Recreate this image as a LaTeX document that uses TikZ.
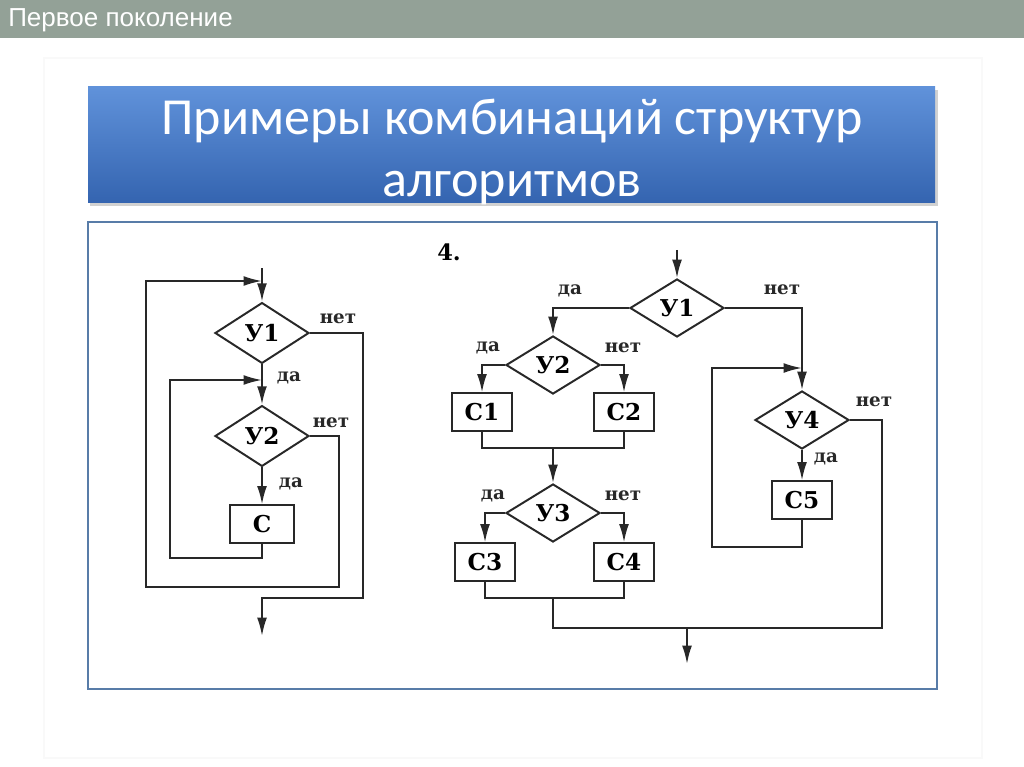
\documentclass[tikz,border=0pt]{standalone}
\usepackage{fontspec}
\usepackage{tikz}
\usetikzlibrary{arrows.meta}
\usetikzlibrary{shapes.geometric}
\setmainfont{DejaVu Serif}
\newfontfamily\headfont{Liberation Sans}
\newfontfamily\titlefont{Carlito}
\definecolor{HeadGrey}{RGB}{147,161,151}
\definecolor{TitleTop}{RGB}{96,146,218}
\definecolor{TitleBottom}{RGB}{52,100,176}
\definecolor{FrameBlue}{RGB}{88,124,168}
\definecolor{InkGrey}{RGB}{40,40,40}

\tikzset{
  cond/.style={diamond, draw=InkGrey, line width=1.4pt, inner sep=0pt,
    minimum width=2.35cm, minimum height=1.45cm, font=\bfseries\fontsize{16.5}{16.5}\selectfont},
  act/.style={rectangle, draw=InkGrey, line width=1.4pt, inner sep=0pt,
    minimum width=1.5cm, minimum height=0.93cm, font=\bfseries\fontsize{16.5}{16.5}\selectfont},
  lab/.style={inner sep=0pt, text=InkGrey, font=\bfseries\fontsize{13}{13}\selectfont},
  link/.style={draw=InkGrey, line width=1.4pt},
  arr/.style={link, -{Latex[length=13pt,width=7pt]}}
}

\begin{document}
\begin{tikzpicture}[x=0.025cm, y=-0.025cm]
  \useasboundingbox (0,0) rectangle (1024,767);
  % header bar
  \fill[HeadGrey] (0,0) rectangle (1024,38);
  \node[anchor=base west, text=white, inner sep=0pt, font=\headfont\fontsize{18.5}{18.5}\selectfont] (head) at (8,27) {Первое поколение};
  \draw[gray!5, line width=0.8pt] (44,58) rectangle (982,758);

  % title
  \fill[black!18] (90,90) rectangle (938,206);
  \shade[top color=TitleTop, bottom color=TitleBottom] (88,87) rectangle (935,203);
  \node[text=white, align=center, font=\titlefont\fontsize{37}{44}\selectfont] (title) at (512,152)
    {Примеры комбинаций структур\\алгоритмов};

  % frame
  \draw[FrameBlue, line width=1.6pt] (88,222) rectangle (937,689);

  % left chart
  \coordinate (lIn) at (262,268);
  \coordinate (lJoin1) at (262,281);
  \coordinate (lJoin2) at (262,380);
  \coordinate (lLoopOut) at (146,587);
  \coordinate (lLoopIn) at (170,558);
  \coordinate (lNo1) at (363,598);
  \coordinate (lNo2) at (339,587);
  \coordinate (lOut) at (262,636);
  \node[cond, minimum height=1.52cm] (lU1) at (262,333) {У1};
  \node[cond, minimum height=1.52cm] (lU2) at (262,436) {У2};
  \node[act, minimum width=1.58cm] (lC) at (262,524) {С};
  \draw[arr] (lIn) -- (lU1);
  \draw[arr] (lU1) -- (lU2);
  \draw[arr] (lU2) -- (lC);
  \draw[arr] (lC.south) |- (lLoopIn) |- (lJoin2);
  \draw[arr] (lU2.east) -| (lNo2) |- (lLoopOut) |- (lJoin1);
  \draw[arr] (lU1.east) -| (lNo1) -| (lOut);
  \node[lab] (lYes1) at (289,378) {да};
  \node[lab] (lYes2) at (291,484) {да};
  \node[lab] (lNo1t) at (338,319) {нет};
  \node[lab] (lNo2t) at (331,423) {нет};

  % right chart
  \node[font=\bfseries\fontsize{16}{16}\selectfont, inner sep=0pt] (num) at (449,252) {4.};
  \coordinate (rIn) at (677,250);
  \coordinate (rMerge1) at (553,448);
  \coordinate (rMerge2) at (553,598);
  \coordinate (rBottom) at (553,628);
  \coordinate (rNo4) at (882,628);
  \coordinate (rOutTop) at (687,628);
  \coordinate (rOut) at (687,664);
  \coordinate (rLoop) at (712,547);
  \coordinate (rJoin) at (802,368);
  \node[cond] (rU1) at (677,308) {У1};
  \node[cond] (rU2) at (553,365) {У2};
  \node[act] (rC1) at (482,412) {С1};
  \node[act] (rC2) at (624,412) {С2};
  \node[cond] (rU3) at (553,513) {У3};
  \node[act] (rC3) at (485,562) {С3};
  \node[act] (rC4) at (624,562) {С4};
  \node[cond] (rU4) at (802,420) {У4};
  \node[act] (rC5) at (802,500) {С5};
  \draw[arr] (rIn) -- (rU1);
  \draw[arr] (rU1.west) -| (rU2);
  \draw[arr] (rU1.east) -| (rU4);
  \draw[arr] (rU2.west) -| (rC1);
  \draw[arr] (rU2.east) -| (rC2);
  \draw[link] (rC1.south) |- (rMerge1) -| (rC2.south);
  \draw[arr] (rMerge1) -- (rU3);
  \draw[arr] (rU3.west) -| (rC3);
  \draw[arr] (rU3.east) -| (rC4);
  \draw[link] (rC3.south) |- (rMerge2) -| (rC4.south);
  \draw[link] (rMerge2) -- (rBottom) -- (rNo4) |- (rU4.east);
  \draw[arr] (rOutTop) -- (rOut);
  \draw[arr] (rU4) -- (rC5);
  \draw[arr] (rC5.south) |- (rLoop) |- (rJoin);
  \node[lab] (rYes1) at (570,291) {да};
  \node[lab] (rYes2) at (488,348) {да};
  \node[lab] (rNo2) at (623,348) {нет};
  \node[lab] (rYes3) at (493,496) {да};
  \node[lab] (rNo3) at (623,496) {нет};
  \node[lab] (rNo4t) at (874,402) {нет};
  \node[lab] (rYes4) at (826,459) {да};
  \node[lab] (rNo1t) at (782,290) {нет};
\end{tikzpicture}
\end{document}
